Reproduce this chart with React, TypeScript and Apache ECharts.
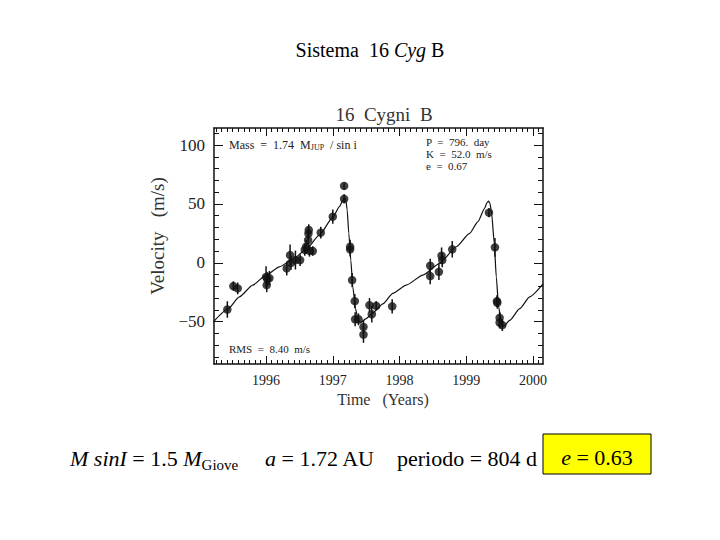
import React, { useEffect, useRef } from "react";
import * as echarts from "echarts";

// ---- data ----
const yearTicks = [1996, 1997, 1998, 1999, 2000];
const velTicks = [-50, 0, 50, 100];
const velMinorTicks = [-80, -70, -60, -40, -30, -20, -10, 10, 20, 30, 40, 60, 70, 80, 90, 110];

const obsYear = [
  1995.42, 1995.51, 1995.575, 1996.0, 1996.02, 1996.01, 1996.05, 1996.31, 1996.36, 1996.375,
  1996.44, 1996.51, 1996.58, 1996.6, 1996.63, 1996.635, 1996.64, 1996.65, 1996.7, 1996.82,
  1997.0, 1997.17, 1997.17, 1997.26, 1997.26, 1997.29, 1997.33, 1997.335, 1997.385, 1997.46,
  1997.46, 1997.55, 1997.585, 1997.65, 1997.89, 1998.46, 1998.46, 1998.59, 1998.63, 1998.64,
  1998.79, 1999.34, 1999.43, 1999.46, 1999.465, 1999.5, 1999.5, 1999.54,
];
const obsVel = [
  -39.7, -19.8, -21.8, -12, -14, -19, -13, -4.8, 6.5, 0,
  2.3, 2.3, 11, 13.6, 19.3, 24.8, 27.8, 10.2, 10, 25.6,
  39.2, 65.3, 54.3, 13.6, 11.4, -14.7, -32.6, -48, -48, -54.5,
  -61, -36, -43.7, -36.6, -37, -2.5, -11.3, -7.7, 6, 2.3,
  11.4, 42.6, 13.1, -32.6, -34, -46.8, -50.8, -53,
];
const obsErr = [
  7, 4, 5, 9, 6, 6, 6, 6, 9, 6,
  8, 5, 5, 6, 6, 6, 5, 5, 4, 5,
  6, 3, 4, 6, 6, 6, 6, 6, 5, 6,
  7, 6, 7, 4, 6, 6, 7, 7, 7, 6,
  7, 4, 8, 5, 5, 5, 5, 5,
];

const fitYear = [
  1995.21, 1995.425, 1995.6, 1995.8, 1996.0, 1996.2, 1996.4, 1996.6, 1996.8, 1997.0,
  1997.1, 1997.15, 1997.175, 1997.195, 1997.215, 1997.24, 1997.27, 1997.3, 1997.34, 1997.375,
  1997.41, 1997.5, 1997.6, 1997.75, 1997.9, 1998.1, 1998.35, 1998.6, 1998.85, 1999.05,
  1999.175, 1999.275, 1999.31, 1999.335, 1999.355, 1999.38, 1999.42, 1999.45, 1999.485, 1999.525,
  1999.56, 1999.65, 1999.8, 1999.95, 2000.15,
];
const fitVel = [
  -50.3, -39.5, -29, -19, -10.5, -3.4, 2.8, 11.4, 23.6, 38.6,
  47.7, 53, 55, 53.5, 45, 25, 2.3, -20.5, -39, -47.4,
  -51, -47.4, -42.6, -35, -26, -19, -10.5, -0.6, 13.6, 25,
  35, 46.3, 51, 52.3, 50.5, 42, 16.5, -12, -37.5, -50.3,
  -54, -49, -39, -29, -18,
];

const X_MIN = 1995.22;
const X_MAX = 2000.15;
const Y_MIN = -86;
const Y_MAX = 114.5;

const monthTicks: number[] = [];
for (let m = 0; m <= 12 * 6; m++) {
  const v = 1995 + m / 12;
  if (v > X_MIN && v < X_MAX && Math.abs(v - Math.round(v)) > 1e-6) monthTicks.push(v);
}

const PLOT_FONT = "'Liberation Serif', 'DejaVu Serif', serif";
const TIMES = "'Liberation Serif', 'Times New Roman', serif";

export default function App() {
  const ref = useRef<HTMLDivElement>(null);
  useEffect(() => {
    if (!ref.current) return;
    const chart = echarts.init(ref.current, undefined, { renderer: "svg" });

    const obs = obsYear.map((x, i) => [x, obsVel[i], obsErr[i]]);
    const fit = fitYear.map((x, i) => [x, fitVel[i]]);

    const axisLine = { show: true, onZero: false, lineStyle: { color: "#111", width: 1.5 } };
    const noLine = { show: false, onZero: false };
    const labelStyle = { color: "#222", fontFamily: PLOT_FONT };
    const tickStyle = { color: "#111", width: 1 };

    const xBase = {
      type: "value" as const,
      min: X_MIN,
      max: X_MAX,
      splitLine: { show: false },
      gridIndex: 0,
    };
    const yBase = {
      type: "value" as const,
      min: Y_MIN,
      max: Y_MAX,
      splitLine: { show: false },
      gridIndex: 0,
    };

    chart.setOption({
      animation: false,
      backgroundColor: "#ffffff",
      grid: { left: 214, right: 177, top: 128, bottom: 176, containLabel: false },
      xAxis: [
        {
          ...xBase,
          position: "bottom",
          axisLine,
          axisTick: { show: true, inside: true, length: 8, customValues: yearTicks, lineStyle: tickStyle },
          axisLabel: { show: true, customValues: yearTicks, margin: 9, ...labelStyle, fontSize: 14, formatter: (v: number) => String(Math.round(v)) },
        },
        {
          ...xBase,
          position: "bottom",
          axisLine: noLine,
          axisTick: { show: true, inside: true, length: 4, customValues: monthTicks, lineStyle: tickStyle },
          axisLabel: { show: false },
        },
        {
          ...xBase,
          position: "top",
          axisLine,
          axisTick: { show: true, inside: true, length: 8, customValues: yearTicks, lineStyle: tickStyle },
          axisLabel: { show: false },
        },
        {
          ...xBase,
          position: "top",
          axisLine: noLine,
          axisTick: { show: true, inside: true, length: 4, customValues: monthTicks, lineStyle: tickStyle },
          axisLabel: { show: false },
        },
      ],
      yAxis: [
        {
          ...yBase,
          position: "left",
          axisLine,
          axisTick: { show: true, inside: true, length: 9, customValues: velTicks, lineStyle: tickStyle },
          axisLabel: { show: true, customValues: velTicks, margin: 9, ...labelStyle, fontSize: 17, formatter: (v: number) => (v < 0 ? "\u2212" + Math.abs(v) : String(v)) },
        },
        {
          ...yBase,
          position: "left",
          axisLine: noLine,
          axisTick: { show: true, inside: true, length: 5, customValues: velMinorTicks, lineStyle: tickStyle },
          axisLabel: { show: false },
        },
        {
          ...yBase,
          position: "right",
          axisLine,
          axisTick: { show: true, inside: true, length: 9, customValues: velTicks, lineStyle: tickStyle },
          axisLabel: { show: false },
        },
        {
          ...yBase,
          position: "right",
          axisLine: noLine,
          axisTick: { show: true, inside: true, length: 5, customValues: velMinorTicks, lineStyle: tickStyle },
          axisLabel: { show: false },
        },
      ],
      series: [
        {
          type: "line",
          data: fit,
          xAxisIndex: 0,
          yAxisIndex: 0,
          showSymbol: false,
          smooth: 0.2,
          smoothMonotone: "x",
          lineStyle: { color: "#111", width: 1.2 },
          silent: true,
          z: 2,
        },
        {
          type: "custom",
          xAxisIndex: 0,
          yAxisIndex: 0,
          data: obs,
          renderItem: (params: any, api: any) => {
            const x = api.value(0);
            const y = api.value(1);
            const e = api.value(2);
            const p1 = api.coord([x, y - e]);
            const p2 = api.coord([x, y + e]);
            return {
              type: "line",
              shape: { x1: p1[0], y1: p1[1], x2: p2[0], y2: p2[1] },
              style: { stroke: "#111", lineWidth: 1.5 },
            };
          },
          z: 3,
        },
        {
          type: "scatter",
          xAxisIndex: 0,
          yAxisIndex: 0,
          data: obs.map((d) => [d[0], d[1]]),
          symbol: "circle",
          symbolSize: 8.5,
          itemStyle: { color: "#111" },
          z: 4,
        },
      ],
      graphic: [
        {
          type: "text",
          x: 370,
          y: 50,
          style: {
            text: "Sistema  16 {i|Cyg} B",
            font: `20px ${TIMES}`,
            fill: "#000",
            align: "center",
            verticalAlign: "middle",
            rich: { i: { fontStyle: "italic", fontSize: 20, fontFamily: TIMES, fill: "#000" } },
          },
        },
        {
          type: "text",
          x: 384,
          y: 114,
          style: {
            text: "16  Cygni  B",
            font: `19px ${PLOT_FONT}`,
            fill: "#333",
            align: "center",
            verticalAlign: "middle",
          },
        },
        {
          type: "text",
          x: 157,
          y: 236,
          rotation: Math.PI / 2,
          style: {
            text: "Velocity   (m/s)",
            font: `19px ${PLOT_FONT}`,
            fill: "#333",
            align: "center",
            verticalAlign: "middle",
          },
        },
        {
          type: "text",
          x: 383,
          y: 399,
          style: {
            text: "Time   (Years)",
            font: `16px ${PLOT_FONT}`,
            fill: "#333",
            align: "center",
            verticalAlign: "middle",
          },
        },
        {
          type: "text",
          x: 229,
          y: 145,
          style: {
            text: "Mass  =  1.74  M{s|JUP}  / sin i",
            font: `12px ${PLOT_FONT}`,
            fill: "#222",
            verticalAlign: "middle",
            rich: { s: { fontSize: 8, fontFamily: PLOT_FONT, fill: "#222", verticalAlign: "bottom", lineHeight: 10 } },
          },
        },
        {
          type: "text",
          x: 426,
          y: 136,
          style: {
            text: "P  =  796.  day\nK  =  52.0  m/s\ne  =  0.67",
            font: `11px ${PLOT_FONT}`,
            fill: "#222",
            lineHeight: 12,
          },
        },
        {
          type: "text",
          x: 229,
          y: 349,
          style: {
            text: "RMS  =  8.40  m/s",
            font: `11px ${PLOT_FONT}`,
            fill: "#222",
            verticalAlign: "middle",
          },
        },
        {
          type: "text",
          x: 70,
          y: 458,
          style: {
            text: "{i|M sinI} = 1.5 {i|M}{s|Giove}",
            font: `22px ${TIMES}`,
            fill: "#000",
            verticalAlign: "middle",
            rich: {
              i: { fontStyle: "italic", fontSize: 22, fontFamily: TIMES, fill: "#000", lineHeight: 28, verticalAlign: "middle" },
              s: { fontSize: 15, fontFamily: TIMES, fill: "#000", lineHeight: 15, verticalAlign: "bottom" },
            },
          },
        },
        {
          type: "text",
          x: 265,
          y: 458,
          style: {
            text: "{i|a} = 1.72 AU",
            font: `22px ${TIMES}`,
            fill: "#000",
            verticalAlign: "middle",
            rich: { i: { fontStyle: "italic", fontSize: 22, fontFamily: TIMES, fill: "#000" } },
          },
        },
        {
          type: "text",
          x: 397,
          y: 458,
          style: {
            text: "periodo = 804 d",
            font: `22px ${TIMES}`,
            fill: "#000",
            verticalAlign: "middle",
          },
        },
        {
          type: "rect",
          shape: { x: 543, y: 434, width: 108, height: 40 },
          style: { fill: "#ffff00", stroke: "#000", lineWidth: 1 },
        },
        {
          type: "text",
          x: 597,
          y: 457,
          style: {
            text: "{i|e} = 0.63",
            font: `22px ${TIMES}`,
            fill: "#000",
            align: "center",
            verticalAlign: "middle",
            rich: { i: { fontStyle: "italic", fontSize: 22, fontFamily: TIMES, fill: "#000" } },
          },
        },
      ],
    });
    return () => chart.dispose();
  }, []);

  return <div ref={ref} style={{ width: 720, height: 540, position: "absolute", left: 0, top: 0 }} />;
}
